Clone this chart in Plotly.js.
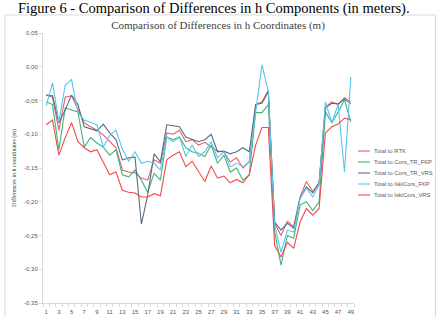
<!DOCTYPE html>
<html>
<head>
<meta charset="utf-8">
<script src="https://cdn.plot.ly/plotly-3.0.1.min.js"></script>
<style>html,body{margin:0;padding:0;background:#fff;}#chart{width:436px;height:317px;}</style>
</head>
<body>
<div id="chart"></div>
<script>
const categories = [1,2,3,4,5,6,7,8,9,10,11,12,13,14,15,16,17,18,19,20,21,22,23,24,25,26,27,28,29,30,31,32,33,34,35,36,37,38,39,40,41,42,43,44,45,46,47,48,49];
const xTickVals = [1,3,5,7,9,11,13,15,17,19,21,23,25,27,29,31,33,35,37,39,41,43,45,47,49];
const xTickText = ["1","3","5","7","9","11","13","15","17","19","21","23","25","27","29","31","33","35","37","39","41","43","45","47","49"];
const yTickVals = [0.05,0,-0.05,-0.10,-0.15,-0.20,-0.25,-0.30,-0.35];
const yTickText = ["0,05","0,00","-0,05","-0,10","-0,15","-0,20","-0,25","-0,30","-0,35"];

const seriesNames = ["Total to RTK","Total to Cors_TR_FKP","Total to Cors_TR_VRS","Total to IskiCors_FKP","Total to IskiCors_VRS"];
const seriesColors = ["#e0606a","#3fb57a","#5d6a86","#56c6ee","#f04a4c"];

const totalToRTK = [-0.042,-0.045,-0.094,-0.045,-0.043,-0.064,-0.083,-0.089,-0.094,-0.101,-0.111,-0.120,-0.153,-0.156,-0.157,-0.165,-0.168,
  -0.138,-0.143,-0.098,-0.100,-0.094,-0.111,-0.108,-0.116,-0.112,-0.119,-0.125,-0.126,-0.141,-0.135,-0.150,-0.141,
  -0.056,-0.052,-0.035,-0.232,-0.250,-0.229,-0.237,-0.193,-0.170,-0.185,-0.172,-0.060,-0.052,-0.056,-0.046,-0.052];
const totalToCorsTrFkp = [-0.052,-0.056,-0.123,-0.061,-0.064,-0.067,-0.119,-0.105,-0.113,-0.119,-0.131,-0.123,-0.160,-0.163,-0.153,-0.168,-0.186,
  -0.158,-0.168,-0.104,-0.108,-0.104,-0.120,-0.126,-0.128,-0.133,-0.116,-0.143,-0.131,-0.156,-0.150,-0.168,-0.160,
  -0.068,-0.068,-0.056,-0.245,-0.294,-0.250,-0.254,-0.205,-0.200,-0.213,-0.200,-0.067,-0.083,-0.067,-0.049,-0.082];
const totalToCorsTrVrs = [-0.042,-0.043,-0.083,-0.064,-0.042,-0.056,-0.089,-0.092,-0.095,-0.085,-0.098,-0.108,-0.138,-0.135,-0.134,-0.233,-0.190,
  -0.129,-0.141,-0.086,-0.088,-0.089,-0.104,-0.107,-0.111,-0.108,-0.100,-0.126,-0.125,-0.129,-0.126,-0.120,-0.126,
  -0.056,-0.054,-0.037,-0.230,-0.242,-0.232,-0.239,-0.195,-0.178,-0.187,-0.172,-0.061,-0.054,-0.055,-0.048,-0.055];
const totalToIskiCorsFkp = [-0.058,-0.024,-0.082,-0.027,-0.019,-0.068,-0.079,-0.083,-0.086,-0.119,-0.102,-0.094,-0.122,-0.140,-0.126,-0.143,-0.140,
  -0.143,-0.153,-0.104,-0.111,-0.104,-0.133,-0.116,-0.133,-0.126,-0.111,-0.135,-0.126,-0.148,-0.143,-0.148,-0.141,
  -0.068,0.003,-0.037,-0.235,-0.275,-0.242,-0.245,-0.195,-0.180,-0.193,-0.175,-0.052,-0.083,-0.056,-0.156,-0.015];
const totalToIskiCorsVrs = [-0.086,-0.079,-0.131,-0.105,-0.083,-0.111,-0.120,-0.126,-0.123,-0.141,-0.160,-0.156,-0.183,-0.186,-0.187,-0.193,-0.193,
  -0.188,-0.191,-0.138,-0.131,-0.126,-0.148,-0.140,-0.155,-0.170,-0.147,-0.165,-0.162,-0.172,-0.167,-0.172,-0.160,
  -0.116,-0.090,-0.090,-0.265,-0.282,-0.260,-0.269,-0.230,-0.210,-0.220,-0.210,-0.098,-0.089,-0.085,-0.076,-0.079];

const seriesValues = [totalToRTK,totalToCorsTrFkp,totalToCorsTrVrs,totalToIskiCorsFkp,totalToIskiCorsVrs];

const traces = seriesValues.map((vals,k)=>({
  x: categories, y: vals, type:'scatter', mode:'lines', name: seriesNames[k],
  line:{color: seriesColors[k], width:1.1}, showlegend:false, hoverinfo:'x+y+name'
}));

// pixel helpers for layout decorations (plot area: left 43, width 311, top 33, height 270)
const L=43, W=311, T=33, H=270;
const px2x = p => (p-L)/W;
const py2y = p => (T+H-p)/H;

const shapes = [{
  type:'rect', xref:'paper', yref:'paper', x0:px2x(5), x1:px2x(435.5), y0:py2y(322), y1:py2y(15),
  line:{color:'#d9d9d9', width:1}, fillcolor:'rgba(0,0,0,0)', layer:'below'
}];
const annotations = [{
  text:'Figure 6 - Comparison of Differences in h Components (in meters).',
  xref:'paper', yref:'paper', x:px2x(214), y:py2y(8.5), xanchor:'center', yanchor:'middle',
  showarrow:false, font:{family:'Liberation Serif, Times New Roman, serif', size:14.5, color:'#000'}
}];
seriesNames.forEach((nm,k)=>{
  const py = 151 + k*11;
  shapes.push({type:'line', xref:'paper', yref:'paper', x0:px2x(358), x1:px2x(370), y0:py2y(py), y1:py2y(py),
    line:{color:seriesColors[k], width:1.1}});
  annotations.push({text:nm, xref:'paper', yref:'paper', x:px2x(372), y:py2y(py), xanchor:'left', yanchor:'middle',
    showarrow:false, font:{family:'Liberation Sans, Arial, sans-serif', size:5.8, color:'#595959'}});
});

const layout = {
  width:436, height:317,
  margin:{l:L, r:436-L-W, t:T, b:317-T-H, pad:0},
  paper_bgcolor:'#fff', plot_bgcolor:'#fff',
  title:{text:'Comparison of Differences in h Coordinates (m)', x:0.5, xref:'container', xanchor:'center',
    y:1-25/317, yref:'container', yanchor:'middle',
    font:{family:'Liberation Serif, Times New Roman, serif', size:11, color:'#404040'}},
  xaxis:{range:[0.5,49.5], tickmode:'array', tickvals:xTickVals, ticktext:xTickText,
    ticks:'outside', ticklen:3, tickcolor:'rgba(0,0,0,0)', showline:true, linecolor:'#d9d9d9', linewidth:1,
    showgrid:false, zeroline:false, fixedrange:true,
    tickfont:{family:'Liberation Sans, Arial, sans-serif', size:6, color:'#595959'},
    minor:{tickmode:'linear', tick0:0.5, dtick:1, ticks:'outside', ticklen:3, tickcolor:'#d9d9d9', showgrid:false}},
  yaxis:{range:[-0.35,0.05], tickmode:'array', tickvals:yTickVals, ticktext:yTickText,
    ticks:'outside', ticklen:3, tickcolor:'#d9d9d9', showline:true, linecolor:'#d9d9d9', linewidth:1,
    showgrid:false, zeroline:false, fixedrange:true,
    tickfont:{family:'Liberation Sans, Arial, sans-serif', size:6, color:'#595959'},
    title:{text:'Differences in h coordinates (m)', standoff:7,
      font:{family:'Liberation Serif, Times New Roman, serif', size:6, color:'#404040'}}},
  shapes:shapes, annotations:annotations, showlegend:false
};

Plotly.newPlot('chart', traces, layout, {staticPlot:true, displayModeBar:false});
</script>
</body>
</html>
